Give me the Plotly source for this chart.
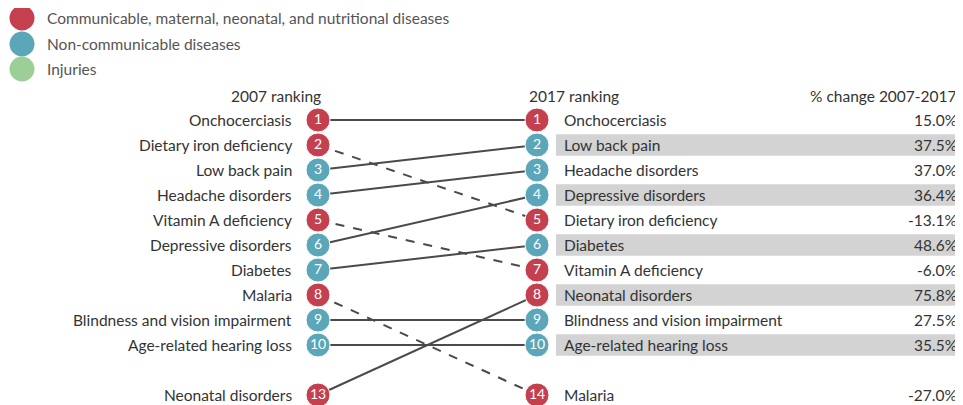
import plotly.graph_objects as go

# ---------------- data ----------------
diseases = ["Onchocerciasis", "Dietary iron deficiency", "Low back pain", "Headache disorders",
            "Vitamin A deficiency", "Depressive disorders", "Diabetes", "Malaria",
            "Blindness and vision impairment", "Age-related hearing loss", "Neonatal disorders"]
rank_2007 = [1, 2, 3, 4, 5, 6, 7, 8, 9, 10, 13]
rank_2017 = [1, 5, 2, 3, 7, 4, 6, 14, 9, 10, 8]
category = ["C", "C", "N", "N", "C", "N", "N", "C", "N", "N", "C"]
pct_change = [15.0, -13.1, 37.5, 37.0, -6.0, 36.4, 48.6, -27.0, 27.5, 35.5, 75.8]

legend_keys = ["C", "N", "I"]
legend_labels = ["Communicable, maternal, neonatal, and nutritional diseases",
                 "Non-communicable diseases", "Injuries"]

# ---------------- styles ----------------
COLORS = {"C": "#C4404F", "N": "#5BA6B9", "I": "#9BCF97"}
FONT = "Lato, 'Open Sans', sans-serif"
FS = 15.5
TXT = "#333333"
LINE = "#4a4a4a"
XL, XR = 318, 537          # circle columns (pixel-units x axis)
LBL_L, LBL_R = 294, 562
PCT_X = 959
BAND_X0, BAND_X1 = 556, 963
OFF = 8                    # page body margin


def slot(r):
    return r if r <= 10 else 12


fig = go.Figure()

# connecting lines
for d, r0, r1 in zip(diseases, rank_2007, rank_2017):
    fig.add_trace(go.Scatter(
        x=[XL, XR], y=[slot(r0), slot(r1)], mode="lines",
        line=dict(color=LINE, width=2, dash="dash" if r1 > r0 else "solid"),
        hoverinfo="skip", showlegend=False))

# grey bands behind even 2017 rows
for r1 in rank_2017:
    if r1 <= 10 and r1 % 2 == 0:
        fig.add_shape(type="rect", xref="x", yref="y", x0=BAND_X0, x1=BAND_X1,
                      y0=slot(r1) - 0.43, y1=slot(r1) + 0.43,
                      fillcolor="#D3D3D3", line_width=0, layer="below")

cols = [COLORS[c] for c in category]
for xs, ranks in ((XL, rank_2007), (XR, rank_2017)):
    fig.add_trace(go.Scatter(
        x=[xs] * len(diseases), y=[slot(r) for r in ranks], mode="markers+text",
        marker=dict(size=24, color=cols, line=dict(color="white", width=1)),
        text=[str(r) for r in ranks], textposition="middle center",
        textfont=dict(color="white", size=14, family=FONT), showlegend=False, hoverinfo="skip"))

# labels
for d, r0, r1, p in zip(diseases, rank_2007, rank_2017, pct_change):
    fig.add_annotation(x=LBL_L, y=slot(r0), text=d, xanchor="right", yanchor="middle",
                       showarrow=False, font=dict(size=FS, color=TXT, family=FONT))
    fig.add_annotation(x=LBL_R, y=slot(r1), text=d, xanchor="left", yanchor="middle",
                       showarrow=False, font=dict(size=FS, color=TXT, family=FONT))
    fig.add_annotation(x=PCT_X, y=slot(r1), text=f"{p:.1f}%", xanchor="right", yanchor="middle",
                       showarrow=False, font=dict(size=FS, color=TXT, family=FONT))

# headers
HY = 0.05
fig.add_annotation(x=323, y=HY, text="2007 ranking", xanchor="right", yanchor="middle",
                   showarrow=False, font=dict(size=FS, color=TXT, family=FONT))
fig.add_annotation(x=527, y=HY, text="2017 ranking", xanchor="left", yanchor="middle",
                   showarrow=False, font=dict(size=FS, color=TXT, family=FONT))
fig.add_annotation(x=PCT_X, y=HY, text="% change 2007-2017", xanchor="right", yanchor="middle",
                   showarrow=False, font=dict(size=FS, color=TXT, family=FONT))

# legend
leg_y = [-3.08, -2.04, -1.04]
fig.add_trace(go.Scatter(
    x=[22] * 3, y=leg_y, mode="markers",
    marker=dict(size=25, color=[COLORS[k] for k in legend_keys]),
    showlegend=False, hoverinfo="skip"))
for yy, lab in zip(leg_y, legend_labels):
    fig.add_annotation(x=45, y=yy, text=lab, xanchor="left", yanchor="middle",
                       showarrow=False, font=dict(size=FS, color="#555555", family=FONT))

fig.update_layout(
    width=963 - OFF, height=405 - OFF, margin=dict(l=0, r=0, t=0, b=0),
    paper_bgcolor="white", plot_bgcolor="white",
    xaxis=dict(range=[OFF, 963], visible=False, fixedrange=True),
    yaxis=dict(range=[12.4, -3.8 + OFF / 25], visible=False, fixedrange=True),
)

fig.write_html("out.html")
